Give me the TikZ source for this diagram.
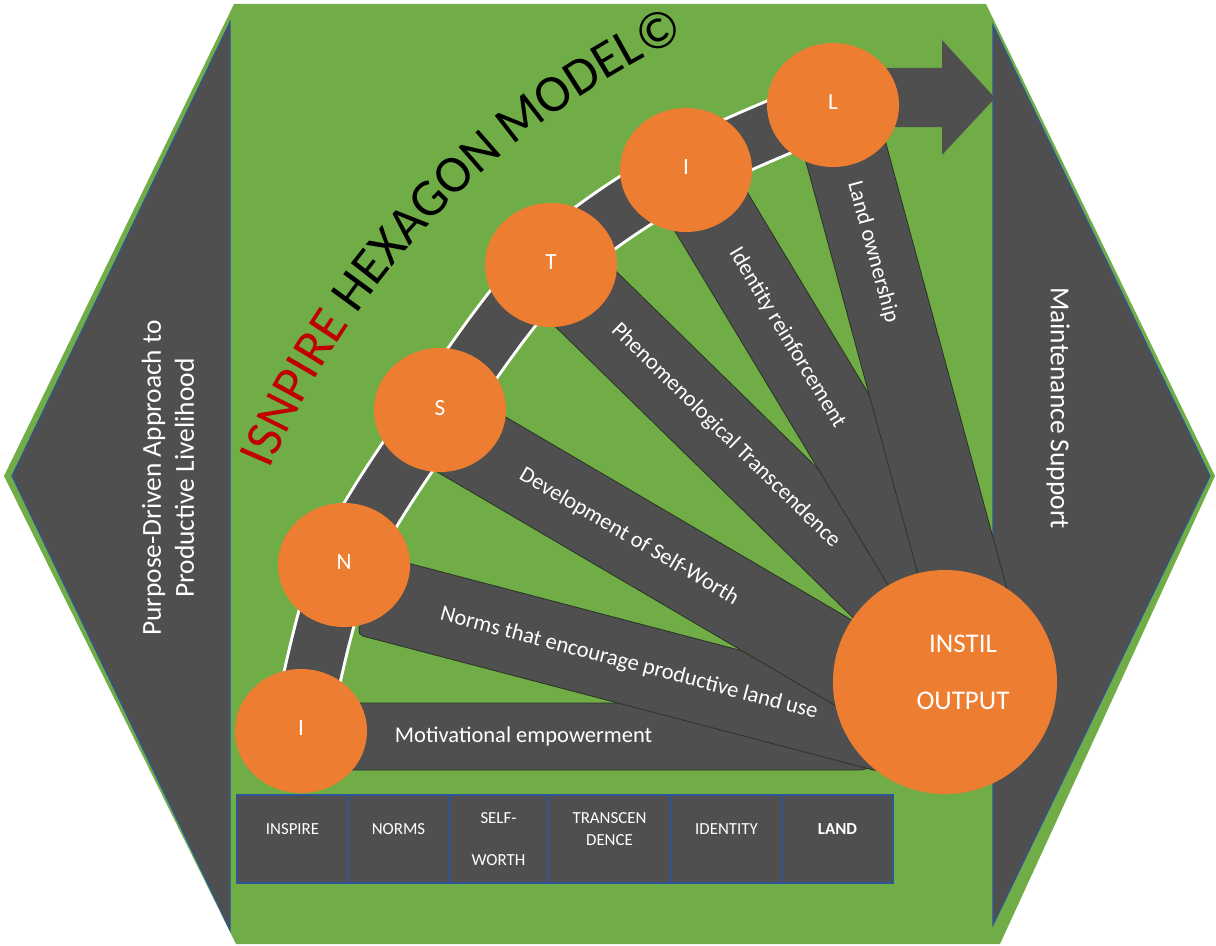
\documentclass[tikz,border=0pt]{standalone}
\usepackage{fontspec}
\setmainfont{Carlito}
\usetikzlibrary{shapes.geometric,calc,decorations.text}
\pgfdeclarelayer{bg}
\pgfsetlayers{bg,main}
\definecolor{hexgreen}{HTML}{70AD47}
\definecolor{hexdark}{HTML}{4F4F4F}
\definecolor{beadorange}{HTML}{ED7D31}
\definecolor{edgeblue}{HTML}{2F5597}
\definecolor{titlered}{HTML}{C00000}
\definecolor{spokeedge}{HTML}{2B3526}
\newcommand{\hextitlefont}{\fontsize{37.5}{40}\selectfont}

\begin{document}
\begin{tikzpicture}[x=0.025cm, y=-0.025cm,
        bead/.style={ellipse, fill=beadorange, minimum width=3.3cm, minimum height=3.1cm, inner sep=0pt, text=white, font=\fontsize{16.5}{18}\selectfont},
        bigbead/.style={circle, fill=beadorange, minimum size=5.6cm, inner sep=0pt},
        spoke/.style={fill=hexdark, draw=spokeedge, line width=0.6pt, rounded corners=4pt},
        spoketext/.style={text=white, font=\fontsize{16}{18}\selectfont},
        track/.style={draw=white, line width=0.075cm, double=hexdark, double distance=1.35cm},
        sidepanel/.style={fill=hexdark, draw=edgeblue, line width=0.8pt},
        sidetext/.style={text=white, align=center, font=\fontsize{19.5}{23.5}\selectfont},
        tabcell/.style={fill=hexdark, draw=edgeblue, line width=1.8pt, minimum height=2.2cm, inner sep=0pt},
        celltext/.style={text=white, align=center, font=\fontsize{12}{14}\selectfont}]
        \useasboundingbox (0,0) rectangle (1216,946);

        \node[bead] (I1) at (301,731) {\raisebox{0.15cm}{I}};
        \node[bead] (N) at (344,565) {\raisebox{0.15cm}{N}};
        \node[bead] (S) at (440,410) {\raisebox{0.1cm}{S}};
        \node[bead] (T) at (551,265) {\raisebox{0.15cm}{T}};
        \node[bead] (I2) at (686,170) {\raisebox{0.15cm}{I}};
        \node[bead] (L) at (833,105) {\raisebox{0.15cm}{L}};
        \node[bigbead] (out) at (945,682) {};
        \node[text=white, align=center, font=\fontsize{19.2}{40.5}\selectfont] (outlbl) at ([xshift=0.45cm,yshift=0.25cm]out.center) {INSTIL\\OUTPUT};

        \coordinate (mA) at (330,703);
        \coordinate (mB) at (872,770);
        \coordinate (nA) at (368,595);
        \coordinate (nB) at (890,732);
        \coordinate (sA) at (440,426);
        \coordinate (sB) at (890,690);
        \coordinate (tB) at (915,621);
        \coordinate (iB) at (975,650);
        \coordinate (lB) at (981,650);
        \coordinate (tip) at (995,98);

        \begin{pgfonlayer}{bg}
                \fill[hexgreen] (4,476) -- (234,4) -- (986,4) -- (1215,476) -- (1000,944) -- (236,944) -- cycle;
                \filldraw[sidepanel] (230,22) -- (12,476) -- (230,930) -- cycle;
                \filldraw[sidepanel] (993,25) -- (1210,476) -- (993,925) -- cycle;

                \draw[spoke, rounded corners=8pt] (mA) rectangle (mB);
                \foreach \a/\b/\p/\t in {nA/nB/0.50/Norms that encourage productive land use,
                        sA/sB/0.42/Development of Self-Worth,
                        T/tB/0.48/Phenomenological Transcendence,
                        I2/iB/0.35/Identity reinforcement,
                        L/lB/0.27/Land ownership} {
                        \draw[spoke] ($(\a.center)!1.025cm!90:(\b.center)$) -- ($(\b.center)!1.025cm!-90:(\a.center)$)
                                -- ($(\b.center)!1.025cm!90:(\a.center)$) -- ($(\a.center)!1.025cm!-90:(\b.center)$) -- cycle;
                        \path (\a.center) -- (\b.center) node[spoketext, sloped, pos=\p] {\t};
                }
                \node[spoketext, anchor=west] (motlbl) at (390,736) {Motivational empowerment};

                \draw[track] plot[smooth, tension=0.55] coordinates {(I1.center) (N.center) (S.center) (T.center) (I2.center) (L.center)};
                \fill[hexdark] (L.center |- 0,68) -- (942,68) -- (942,40) -- (tip) -- (942,155) -- (942,127) -- (L.center |- 0,127) -- cycle;
        \end{pgfonlayer}

        \node[sidetext, rotate=90] (purpose) at (168,478) {Purpose-Driven Approach to\\Productive Livelihood};
        \node[sidetext, rotate=-90] (support) at (1058,408) {Maintenance Support};

        \path[decorate, decoration={text along path,
                text={|\hextitlefont\color{titlered}|ISNPIRE |\hextitlefont\color{black}|HEXAGON MODEL©}}]
                (270,470) arc[start angle=203, end angle=262, radius=845];

        \node[tabcell, minimum width=2.775cm] (c1) at (292.5,839) {};
        \node[tabcell, minimum width=2.525cm] (c2) at (398.5,839) {};
        \node[tabcell, minimum width=2.475cm] (c3) at (498.5,839) {};
        \node[tabcell, minimum width=3.075cm] (c4) at (609.5,839) {};
        \node[tabcell, minimum width=2.775cm] (c5) at (726.5,839) {};
        \node[tabcell, minimum width=2.775cm] (c6) at (837.5,839) {};
        \node[celltext] (w1) at ([yshift=0.25cm]c1.center) {INSPIRE};
        \node[celltext] (w2) at ([yshift=0.25cm]c2.center) {NORMS};
        \node[celltext, font=\fontsize{12}{30}\selectfont] (w3) at (c3.center) {SELF-\\WORTH};
        \node[celltext, font=\fontsize{12}{15.6}\selectfont] (w4) at ([yshift=0.25cm]c4.center) {TRANSCEN\\DENCE};
        \node[celltext] (w5) at ([yshift=0.25cm]c5.center) {IDENTITY};
        \node[celltext, font=\fontsize{12}{14}\selectfont\bfseries] (w6) at ([yshift=0.25cm]c6.center) {LAND};
\end{tikzpicture}
\end{document}
